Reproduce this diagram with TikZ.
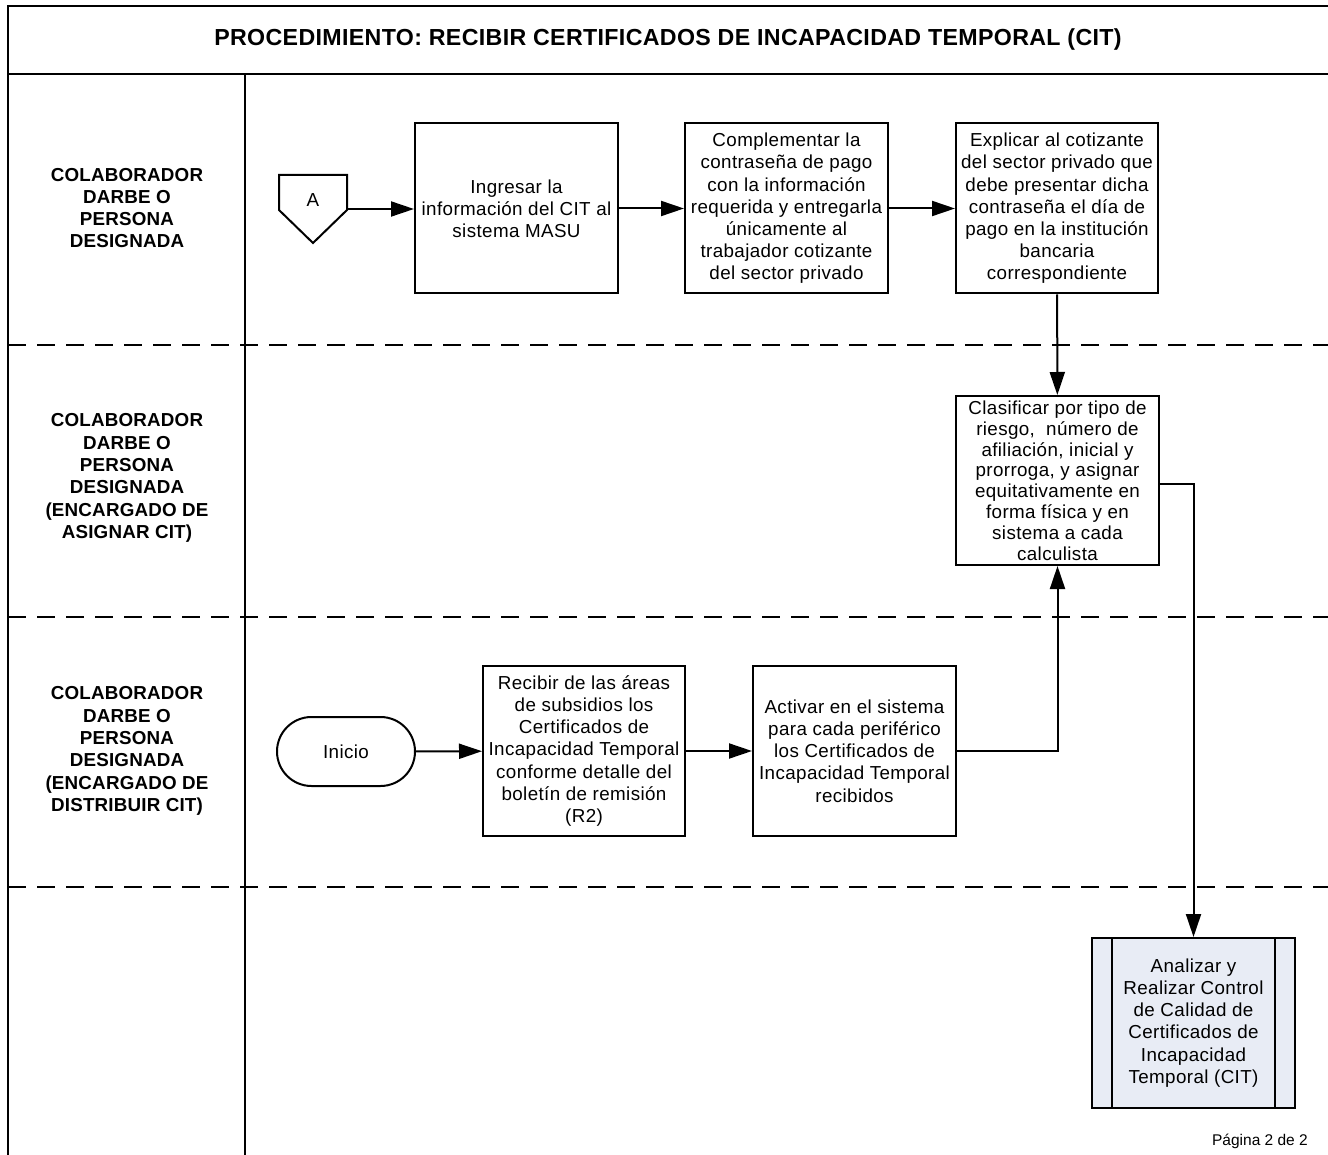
\documentclass[tikz,border=0pt]{standalone}
\usepackage{fontspec}
\setmainfont{Liberation Sans}
\newfontfamily\bxf{Liberation Sans}[LetterSpace=2]
\newfontfamily\titf{Liberation Sans}[LetterSpace=1.5]
\newfontfamily\lanef{Liberation Sans}[LetterSpace=1]
\usetikzlibrary{arrows.meta,shapes.misc,calc}
\definecolor{subfill}{RGB}{232,236,245}
\tikzset{
  frameline/.style={line width=2.4pt,black},
  laneline/.style={line width=2.4pt,black,dash pattern=on 18pt off 11pt},
  procbox/.style={draw,line width=2pt,minimum width=203pt,minimum height=170pt,inner sep=0pt,align=center,font=\bxf\fontsize{18.8}{22.2}\selectfont},
  lanelabel/.style={align=center,font=\lanef\bfseries\fontsize{18.8}{22.3}\selectfont,inner sep=0pt},
  conn/.style={line width=2pt,-{Triangle[length=23pt,width=15pt]}},
}
\begin{document}
\begin{tikzpicture}[x=1pt,y=-1pt]
\useasboundingbox (0,0) rectangle (1328,1155);
% frame
\draw[frameline] (1332,6) -- (8,6) -- (8,1160);
\draw[frameline] (8,74) -- (1332,74);
\draw[frameline] (245,74) -- (245,1160);
\draw[laneline] (8,345) -- (1332,345);
\draw[laneline] (8,617) -- (1332,617);
\draw[laneline] (8,887) -- (1332,887);
% title
\node[font=\titf\bfseries\fontsize{23.2}{26}\selectfont] (title) at (668,40) {PROCEDIMIENTO: RECIBIR CERTIFICADOS DE INCAPACIDAD TEMPORAL (CIT)};
% lane labels
\node[lanelabel] (l1) at (127,208) {COLABORADOR\\DARBE O\\PERSONA\\DESIGNADA};
\node[lanelabel] (l2) at (127,478) {COLABORADOR\\DARBE O\\PERSONA\\DESIGNADA\\(ENCARGADO DE\\ASIGNAR CIT)};
\node[lanelabel] (l3) at (127,751) {COLABORADOR\\DARBE O\\PERSONA\\DESIGNADA\\(ENCARGADO DE\\DISTRIBUIR CIT)};
% off-page connector A
\draw[line width=2pt,line join=miter] (279,175) -- (347,175) -- (347,210) -- (313,243) -- (279,210) -- cycle;
\node[font=\bxf\fontsize{18.8}{20}\selectfont] (A) at (313,200) {A};
\coordinate (Aout) at (347,209);
% boxes
\node[procbox] (b1) at (516.5,208.5) {Ingresar la\\información del CIT al\\sistema MASU};
\node[procbox] (b2) at (786.5,208.5) {Complementar la\\contraseña de pago\\con la información\\requerida y entregarla\\únicamente al\\trabajador cotizante\\del sector privado};
\node[procbox,minimum width=202pt] (b3) at (1057,208.5) {Explicar al cotizante\\del sector privado que\\debe presentar dicha\\contraseña el día de\\pago en la institución\\bancaria\\correspondiente};
\node[procbox,minimum height=169pt,font=\bxf\fontsize{18.8}{20.8}\selectfont] (b4) at (1057.5,480.5) {Clasificar por tipo de\\riesgo,\ \ número de\\afiliación, inicial y\\prorroga, y asignar\\equitativamente en\\forma física y en\\sistema a cada\\calculista};
\node[procbox,minimum width=202pt] (b5) at (584,751) {Recibir de las áreas\\de subsidios los\\Certificados de\\Incapacidad Temporal\\conforme detalle del\\boletín de remisión\\(R2)};
\node[procbox] (b6) at (854.5,751) {Activar en el sistema\\para cada periférico\\los Certificados de\\Incapacidad Temporal\\recibidos};
\node[procbox,fill=subfill] (sub) at (1193.5,1023) {Analizar y\\Realizar Control\\de Calidad de\\Certificados de\\Incapacidad\\Temporal (CIT)};
\draw[line width=2pt] ($(sub.north west)+(21,0)$) -- ($(sub.south west)+(21,0)$);
\draw[line width=2pt] ($(sub.north east)+(-21,0)$) -- ($(sub.south east)+(-21,0)$);
% start terminal
\node[draw,line width=2pt,rounded rectangle,minimum width=138pt,minimum height=69pt,inner sep=0pt,font=\bxf\fontsize{18.8}{22}\selectfont] (ini) at (346,751.5) {Inicio};
% page number
\node[anchor=east,font=\fontsize{15.5}{18}\selectfont,inner sep=0pt] (page) at (1308,1141) {Página 2 de 2};
% connectors
\draw[conn] (Aout) -- (b1.west |- Aout);
\draw[conn] (b1) -- (b2);
\draw[conn] (b2) -- (b3);
\draw[conn] (b3) -- (b4);
\draw[conn] ($(b4.east)+(0,3)$) -| (sub.north);
\draw[conn] (ini) -- (b5);
\draw[conn] (b5) -- (b6);
\draw[conn] (b6.east) -| (b4.south);
\end{tikzpicture}
\end{document}
